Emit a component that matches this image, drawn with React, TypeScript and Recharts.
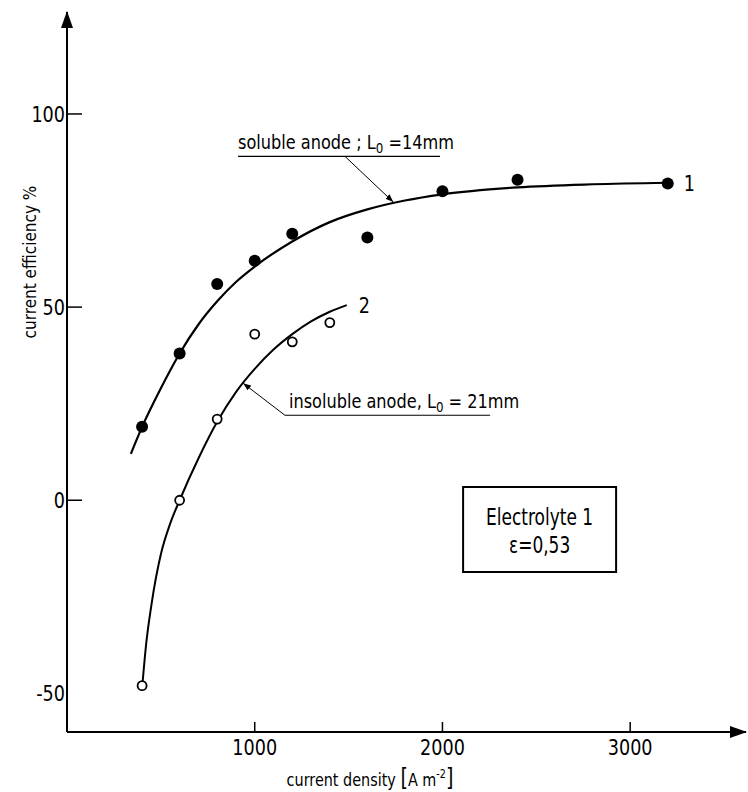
import React from "react";
import {
  ComposedChart,
  Line,
  Scatter,
  XAxis,
  YAxis,
  ReferenceLine,
  ReferenceArea,
  ReferenceDot,
} from "recharts";

// measured points, curve 1 (soluble anode, filled dots)
const solubleX = [400, 600, 800, 1000, 1200, 1600, 2000, 2400, 3200];
const solubleY = [19, 38, 56, 62, 69, 68, 80, 83, 82];

// measured points, curve 2 (insoluble anode, open dots)
const insolubleX = [400, 600, 800, 1000, 1200, 1400];
const insolubleY = [-48, 0, 21, 43, 41, 46];

// hand-drawn fitted curves
const fit1X = [340, 400, 500, 600, 700, 800, 900, 1000, 1200, 1400, 1600, 1800, 2000, 2400, 2800, 3200];
const fit1Y = [12, 19, 29, 38, 45.5, 51.5, 56.5, 60.5, 67, 72, 75.3, 77.6, 79.2, 81, 81.8, 82.2];
const fit2X = [403, 420, 450, 500, 550, 600, 700, 800, 900, 1000, 1100, 1200, 1300, 1400, 1490];
const fit2Y = [-47, -38, -27, -14, -6, 0, 10.8, 20.3, 28, 34, 39, 43, 46.3, 48.8, 50.5];

const xTicks = [1000, 2000, 3000];
const yTicks = [100, 50, 0, -50];

const FONT = '"DejaVu Sans", sans-serif';

const zip = (xs: number[], ys: number[]) => xs.map((x, i) => ({ x, y: ys[i] }));

const soluble = zip(solubleX, solubleY);
const insoluble = zip(insolubleX, insolubleY);
const fit1 = zip(fit1X, fit1Y);
const fit2 = zip(fit2X, fit2Y);

// narrow lettering: squeeze the text horizontally around its anchor
const Cond = ({ x, y, size, sx = 0.8, anchor = "start", rotate = 0, dy, children }: any) => (
  <g transform={`translate(${x},${y}) rotate(${rotate}) scale(${sx},1)`}>
    <text x={0} y={0} dy={dy} textAnchor={anchor} fontSize={size} fill="#000" fontFamily={FONT}>
      {children}
    </text>
  </g>
);

const XTick = (props: any) => {
  const { x, y, payload } = props;
  return (
    <g>
      <line x1={x} y1={y} x2={x} y2={y - 10} stroke="#000" strokeWidth={1.5} />
      <Cond x={x} y={y + 23} size={22} anchor="middle">
        {payload.value}
      </Cond>
    </g>
  );
};

const YTick = (props: any) => {
  const { x, y, payload } = props;
  return (
    <g>
      {payload.value !== -50 && (
        <line x1={x} y1={y} x2={x + 15} y2={y} stroke="#000" strokeWidth={1.5} />
      )}
      <Cond x={x - 2} y={y} dy="0.36em" size={22} anchor="end">
        {payload.value}
      </Cond>
    </g>
  );
};

const FilledDot = (p: any) => <circle cx={p.cx} cy={p.cy} r={6} fill="#000" />;
const OpenDot = (p: any) => (
  <circle cx={p.cx} cy={p.cy} r={4.5} fill="#fff" stroke="#000" strokeWidth={1.8} />
);

const leader = (p: any) => (
  <line
    x1={p.x1}
    y1={p.y1}
    x2={p.x2}
    y2={p.y2}
    stroke="#000"
    strokeWidth={1}
    markerEnd="url(#tipArrow)"
  />
);

export default function App() {
  return (
    <div style={{ position: "absolute", left: 0, top: 0, width: 748, height: 792, background: "#fff" }}>
      <ComposedChart
        width={748}
        height={792}
        margin={{ top: 12, right: 2, bottom: 0, left: 0 }}
      >
        <defs>
          <marker
            id="axisArrow"
            viewBox="0 0 17 12"
            refX="16"
            refY="6"
            markerWidth="17"
            markerHeight="12"
            markerUnits="userSpaceOnUse"
            orient="auto-start-reverse"
          >
            <path d="M0,0 L17,6 L0,12 z" fill="#000" />
          </marker>
          <marker
            id="tipArrow"
            viewBox="0 0 8 6"
            refX="8"
            refY="3"
            markerWidth="8"
            markerHeight="6"
            markerUnits="userSpaceOnUse"
            orient="auto"
          >
            <path d="M0,0 L8,3 L0,6 z" fill="#000" />
          </marker>
        </defs>
        <XAxis
          type="number"
          dataKey="x"
          domain={[0, 3617]}
          ticks={xTicks}
          height={60}
          allowDataOverflow
          axisLine={{ stroke: "#000", strokeWidth: 2, markerEnd: "url(#axisArrow)" }}
          tickLine={false}
          tickSize={0}
          tickMargin={0}
          tick={XTick}
          label={{
            content: () => (
              <Cond x={370} y={786} size={18} anchor="middle">
                current density{"  "}
                <tspan fontSize={24} fill="#000">[</tspan>A m
                <tspan dy={-8} fontSize={12} fill="#000">-2</tspan>
                <tspan dy={8} fontSize={24} fill="#000">]</tspan>
              </Cond>
            ),
          }}
        />
        <YAxis
          type="number"
          dataKey="y"
          domain={[-60, 126.4]}
          ticks={yTicks}
          width={67}
          allowDataOverflow
          axisLine={{ stroke: "#000", strokeWidth: 2, markerStart: "url(#axisArrow)" }}
          tickLine={false}
          tickSize={0}
          tickMargin={0}
          tick={YTick}
          label={{
            content: () => (
              <Cond x={30} y={262} rotate={-90} size={18} sx={0.85} anchor="middle" dy="0.35em">
                current efficiency %
              </Cond>
            ),
          }}
        />

        <Line data={fit1} dataKey="y" type="monotone" stroke="#000" strokeWidth={2.2} dot={false} activeDot={false} isAnimationActive={false} />
        <Line data={fit2} dataKey="y" type="monotone" stroke="#000" strokeWidth={2} dot={false} activeDot={false} isAnimationActive={false} />
        <Scatter data={soluble} dataKey="y" shape={FilledDot} isAnimationActive={false} />
        <Scatter data={insoluble} dataKey="y" shape={OpenDot} isAnimationActive={false} />

        {/* annotation: soluble anode */}
        <ReferenceLine
          segment={[{ x: 911, y: 89 }, { x: 1987, y: 89 }]}
          stroke="#000"
          strokeWidth={1.2}
          ifOverflow="visible"
          label={(p: any) => (
            <Cond x={p.viewBox.x} y={p.viewBox.y - 7} size={19} sx={0.85}>
              soluble anode ; L<tspan dy={4} fontSize={14} fill="#000">0</tspan>
              <tspan dy={-4} fill="#000"> =14mm</tspan>
            </Cond>
          )}
        />
        <ReferenceLine
          segment={[{ x: 1481, y: 89 }, { x: 1738, y: 77.2 }]}
          ifOverflow="visible"
          shape={leader}
        />

        {/* annotation: insoluble anode */}
        <ReferenceLine
          segment={[{ x: 1161, y: 22 }, { x: 2254, y: 22 }]}
          stroke="#000"
          strokeWidth={1.2}
          ifOverflow="visible"
          label={(p: any) => (
            <Cond x={p.viewBox.x + 4} y={p.viewBox.y - 7} size={19} sx={0.85}>
              insoluble anode, L<tspan dy={4} fontSize={14} fill="#000">0</tspan>
              <tspan dy={-4} fill="#000"> = 21mm</tspan>
            </Cond>
          )}
        />
        <ReferenceLine
          segment={[{ x: 1161, y: 22 }, { x: 938, y: 30.3 }]}
          ifOverflow="visible"
          shape={leader}
        />

        {/* curve numbers */}
        <ReferenceDot
          x={3200}
          y={82}
          ifOverflow="visible"
          shape={(p: any) => (
            <Cond x={p.cx + 16} y={p.cy} dy="0.36em" size={22}>
              1
            </Cond>
          )}
        />
        <ReferenceDot
          x={1490}
          y={50}
          ifOverflow="visible"
          shape={(p: any) => (
            <Cond x={p.cx + 12} y={p.cy - 2} dy="0.36em" size={22}>
              2
            </Cond>
          )}
        />

        {/* electrolyte box */}
        <ReferenceArea
          x1={2110}
          x2={2925}
          y1={-18.6}
          y2={3.4}
          fill="#fff"
          fillOpacity={1}
          stroke="#000"
          strokeWidth={2}
          ifOverflow="visible"
          label={(p: any) => {
            const { x, y, width } = p.viewBox;
            const cx = x + width / 2;
            return (
              <g>
                <Cond x={cx} y={y + 38} size={23} sx={0.74} anchor="middle">
                  Electrolyte 1
                </Cond>
                <Cond x={cx} y={y + 66} size={23} sx={0.74} anchor="middle">
                  ε=0,53
                </Cond>
              </g>
            );
          }}
        />
      </ComposedChart>
    </div>
  );
}
